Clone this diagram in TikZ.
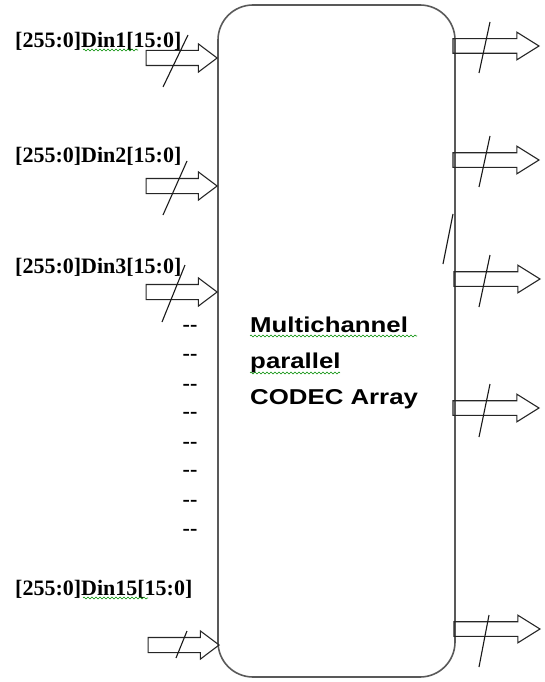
\documentclass[tikz,border=0pt]{standalone}
\usepackage{fontspec}
\setmainfont{Liberation Serif}
\newfontfamily\arialfont{Liberation Sans}
\usetikzlibrary{shapes.arrows,decorations.pathmorphing}

\begin{document}
\begin{tikzpicture}[
    x=1pt, y=-1pt,
    busname/.style={anchor=base west, inner sep=0pt, font=\fontsize{22}{26}\selectfont\bfseries},
    ellip/.style={inner sep=0pt, font=\fontsize{22}{26}\selectfont\bfseries},
    inarrow/.style={draw=black!85, line width=1.1pt, single arrow, anchor=tip, minimum height=71pt,
      inner xsep=0pt, inner ysep=7pt, single arrow head extend=6.5pt, single arrow tip angle=74},
    outarrow/.style={draw=black!85, line width=1.1pt, single arrow, anchor=tip, minimum height=86pt,
      inner xsep=0pt, inner ysep=6.75pt, single arrow head extend=6.5pt, single arrow tip angle=64},
    slash/.style={draw=black!90, line width=1.1pt},
    squiggle/.style={draw=green!55!black, line width=0.6pt, decorate,
      decoration={zigzag, segment length=4pt, amplitude=1pt}}
  ]
    \useasboundingbox (0,0) rectangle (545,682);

    % Bloc central
    \node[draw=black!65, line width=1.6pt, rounded corners=35pt, minimum width=237pt,
      minimum height=672pt, inner sep=0pt] (codec) at (336.5,341) {};
    \node[anchor=north west, inner sep=0pt, align=left, xscale=1.2, transform shape,
      font=\arialfont\fontsize{21.5}{36}\selectfont\bfseries] (title) at (250,317)
      {Multichannel\\parallel\\CODEC Array};

    % Entrées
    \node[busname] (din1) at (15,48) {[255:0]Din1[15:0]};
    \node[busname] (din2) at (15,162) {[255:0]Din2[15:0]};
    \node[busname] (din3) at (15,273) {[255:0]Din3[15:0]};
    \node[busname] (din15) at (15,595) {[255:0]Din15[15:0]};

    \node[inarrow] (in1) at (218,58) {};
    \node[inarrow] (in2) at (218,186) {};
    \node[inarrow] (in3) at (218,292) {};
    \node[inarrow] (in15) at (220,645) {};

    \draw[slash] ([shift={(-30,-23)}]in1.tip) -- ([shift={(-55,29)}]in1.tip);
    \draw[slash] ([shift={(-31,-25)}]in2.tip) -- ([shift={(-55,29)}]in2.tip);
    \draw[slash] ([shift={(-33,-27)}]in3.tip) -- ([shift={(-56,30)}]in3.tip);
    \draw[slash] ([shift={(-33,-14)}]in15.tip) -- ([shift={(-44,13)}]in15.tip);

    % Pointillés entre Din3 et Din15
    \foreach \y [count=\i] in {328,357,387,415,445,473,503,532}
      \node[ellip] (gap\i) at (190,\y) {-{}-};

    % Sorties
    \node[outarrow] (out1) at (540,46) {};
    \node[outarrow] (out2) at (540,160) {};
    \node[outarrow] (out3) at (541,279) {};
    \node[outarrow] (out4) at (540,408) {};
    \node[outarrow] (out5) at (541,629) {};

    \draw[slash] ([shift={(-50,-24)}]out1.tip) -- ([shift={(-61,27)}]out1.tip);
    \draw[slash] ([shift={(-50,-24)}]out2.tip) -- ([shift={(-61,27)}]out2.tip);
    \draw[slash] ([shift={(-51,-24)}]out3.tip) -- ([shift={(-62,28)}]out3.tip);
    \draw[slash] ([shift={(-50,-24)}]out4.tip) -- ([shift={(-61,29)}]out4.tip);
    \draw[slash] ([shift={(-52,-14)}]out5.tip) -- ([shift={(-62,38)}]out5.tip);
    \draw[slash] (453,214) -- (443,264);

    % Soulignements du correcteur
    \draw[squiggle] (83,50) -- (138,50);
    \draw[squiggle] (83,598) -- (148,598);
    \draw[squiggle] (250,336) -- (417,336);
    \draw[squiggle] (250,373) -- (340,373);
\end{tikzpicture}
\end{document}
